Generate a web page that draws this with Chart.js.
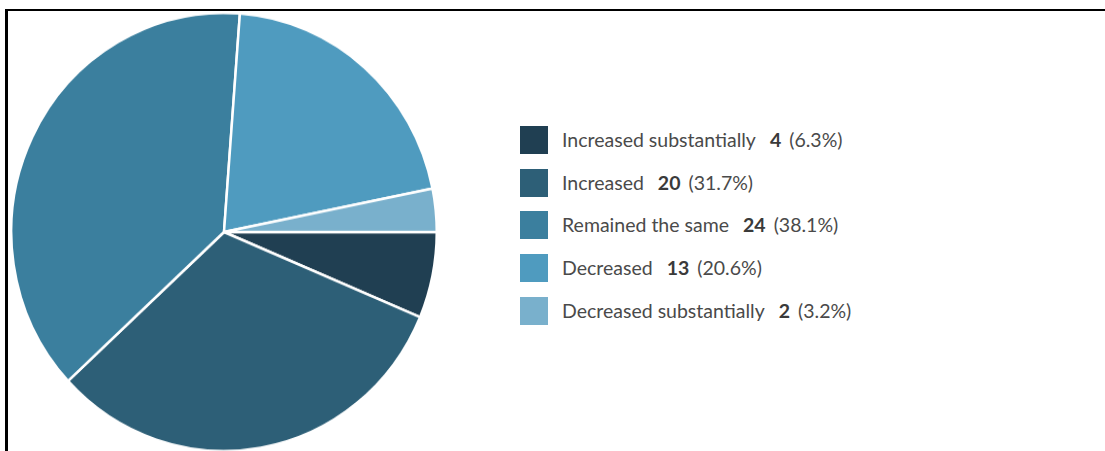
<!DOCTYPE html>
<html>
<head>
<meta charset="utf-8">
<script src="https://cdn.jsdelivr.net/npm/chart.js@4"></script>
<style>
  html, body { margin: 0; padding: 0; background: #fff; }
  body { width: 1105px; height: 451px; overflow: hidden; position: relative; font-family: Lato, "Open Sans", sans-serif; }
  #frame { position: absolute; left: 5px; top: 9px; right: 0; bottom: -5px; border-top: 2px solid #000; border-left: 3px solid #000; }
  #pie-wrap { position: absolute; left: 10px; top: 18px; width: 428px; height: 428px; transform: scaleY(1.03); transform-origin: 50% 50%; }
  #legend { position: absolute; left: 520px; top: 126px; margin: 0; padding: 0; list-style: none; }
  #legend li { display: flex; align-items: center; height: 28px; line-height: 28px; margin-bottom: 14.7px; font-size: 19.5px; color: #4a4a4a; white-space: nowrap; }
  #legend .sw { width: 28px; height: 28px; margin-right: 14px; flex: none; }
  #legend .n { font-weight: bold; color: #3a3a3a; margin-left: 14px; margin-right: 8px; }
</style>
</head>
<body>
<div id="frame"></div>
<div id="pie-wrap"><canvas id="pie"></canvas></div>
<ul id="legend"></ul>
<script>
const labels = ["Increased substantially", "Increased", "Remained the same", "Decreased", "Decreased substantially"];
const counts = [4, 20, 24, 13, 2];
const percents = ["6.3%", "31.7%", "38.1%", "20.6%", "3.2%"];
const colors = ["#203f52", "#2d5f77", "#3b7f9e", "#4f9bbf", "#79b0cc"];

// --- Legend --------------------------------------------------------------

const ul = document.querySelector("#legend");
labels.forEach((label, i) => {
  const li = document.createElement("li");
  li.innerHTML = `
    <span class="sw" style="background:${colors[i]}"></span>
    <span>${label}</span><span class="n">${counts[i]}</span><span>(${percents[i]})</span>
  `;
  ul.appendChild(li);
});

// --- Pie -----------------------------------------------------------------

new Chart(document.querySelector("#pie"), {
  type: "pie",
  data: {
    labels,
    datasets: [{
      data: counts,
      backgroundColor: colors,
      borderColor: "#fff",
      borderWidth: 2.5,
      hoverOffset: 0,
    }],
  },
  options: {
    responsive: true,
    maintainAspectRatio: false,
    animation: false,
    rotation: 90,
    layout: { padding: 0 },
    plugins: { legend: { display: false }, tooltip: { enabled: false } },
  },
});
</script>
</body>
</html>
